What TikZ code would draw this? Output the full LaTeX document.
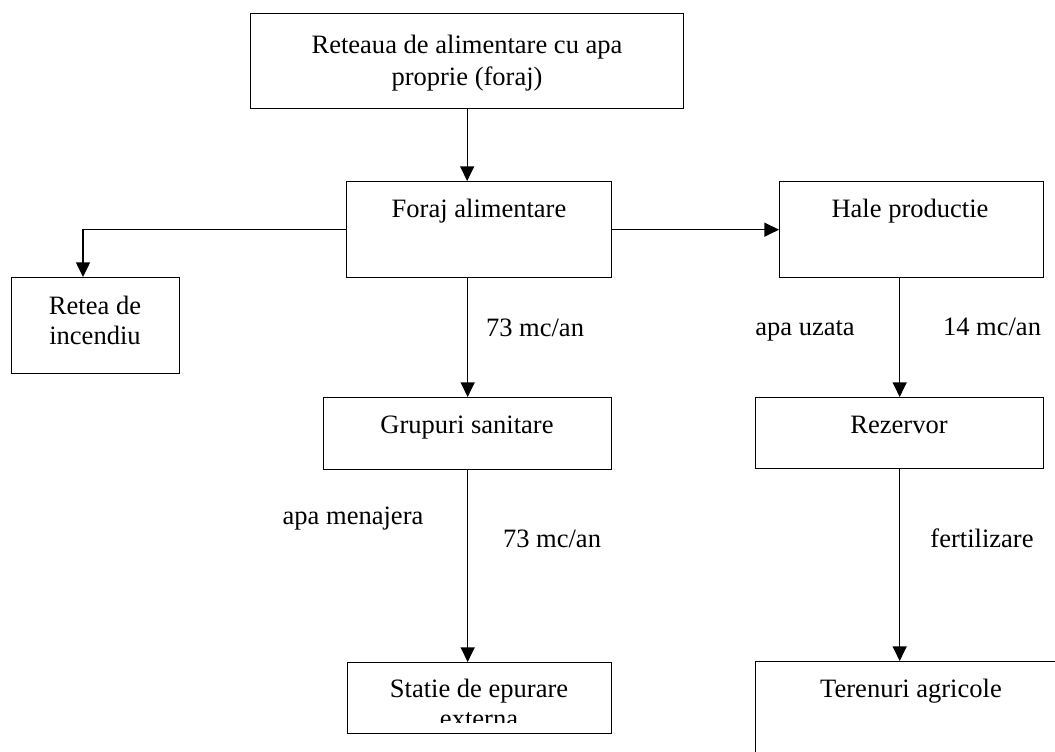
\documentclass[tikz,border=0pt]{standalone}
\usepackage{fontspec}
\setmainfont{Liberation Serif}
\usetikzlibrary{arrows.meta}
\begin{document}
\begin{tikzpicture}[x=0.75pt,y=-0.75pt,
  box/.style={draw, line width=1pt, rectangle, inner sep=0pt, anchor=north west},
  txt/.style={inner sep=0pt, anchor=base, font=\fontsize{19.9}{23.5}\selectfont},
  conn/.style={line width=1pt, -{Triangle[length=11pt,width=10.5pt]}}]
\clip (0,0) rectangle (1055,751);
\fill[white] (0,0) rectangle (1055,751);
% boxes
\node[box, minimum width=433*0.75pt, minimum height=95*0.75pt] (top) at (250,13) {};
\node[box, minimum width=265*0.75pt, minimum height=96*0.75pt] (foraj) at (346,181) {};
\node[box, minimum width=264*0.75pt, minimum height=96*0.75pt] (hale) at (779,181) {};
\node[box, minimum width=168*0.75pt, minimum height=96*0.75pt] (retea) at (11,277) {};
\node[box, minimum width=288*0.75pt, minimum height=72*0.75pt] (grup) at (323,397) {};
\node[box, minimum width=288*0.75pt, minimum height=71*0.75pt] (rez) at (755,397) {};
\node[box, minimum width=264*0.75pt, minimum height=71*0.75pt] (statie) at (347,662) {};
\node[box, minimum width=330*0.75pt, minimum height=130*0.75pt] (teren) at (755,661) {};
% box texts
\node[txt] (t1a) at (467,53) {Reteaua de alimentare cu apa};
\node[txt] (t1b) at (467,85) {proprie (foraj)};
\node[txt] (tforaj) at (479,217) {Foraj alimentare};
\node[txt] (thale) at (910,217) {Hale productie};
\node[txt] (tretea1) at (95,314) {Retea de};
\node[txt] (tretea2) at (95,344) {incendiu};
\node[txt] (tgrup) at (467,433) {Grupuri sanitare};
\node[txt] (trez) at (899,433) {Rezervor};
\node[txt] (tstatie1) at (479,697) {Statie de epurare};
\begin{scope}
\clip (347,662) rectangle (611,722);
\node[txt] (tstatie2) at (479,727) {externa};
\end{scope}
\node[txt] (tteren) at (911,697) {Terenuri agricole};
% labels
\node[txt] (l1) at (535,336) {73 mc/an};
\node[txt] (l2) at (805,335) {apa uzata};
\node[txt] (l3) at (992,335) {14 mc/an};
\node[txt] (l4) at (353,524) {apa menajera};
\node[txt] (l5) at (552,547) {73 mc/an};
\node[txt] (l6) at (982,547) {fertilizare};
% connectors
\coordinate (rin) at (83,277);
\draw[conn] (top.south) -- (top.south |- foraj.north);
\draw[conn] (foraj.east) -- (hale.west);
\draw[conn] (foraj.west) -| (rin);
\draw[conn] (grup.north |- foraj.south) -- (grup.north);
\draw[conn] (grup.south) -- (grup.south |- statie.north);
\draw[conn] (rez.north |- hale.south) -- (rez.north);
\draw[conn] (rez.south) -- (rez.south |- teren.north);
\end{tikzpicture}
\end{document}
